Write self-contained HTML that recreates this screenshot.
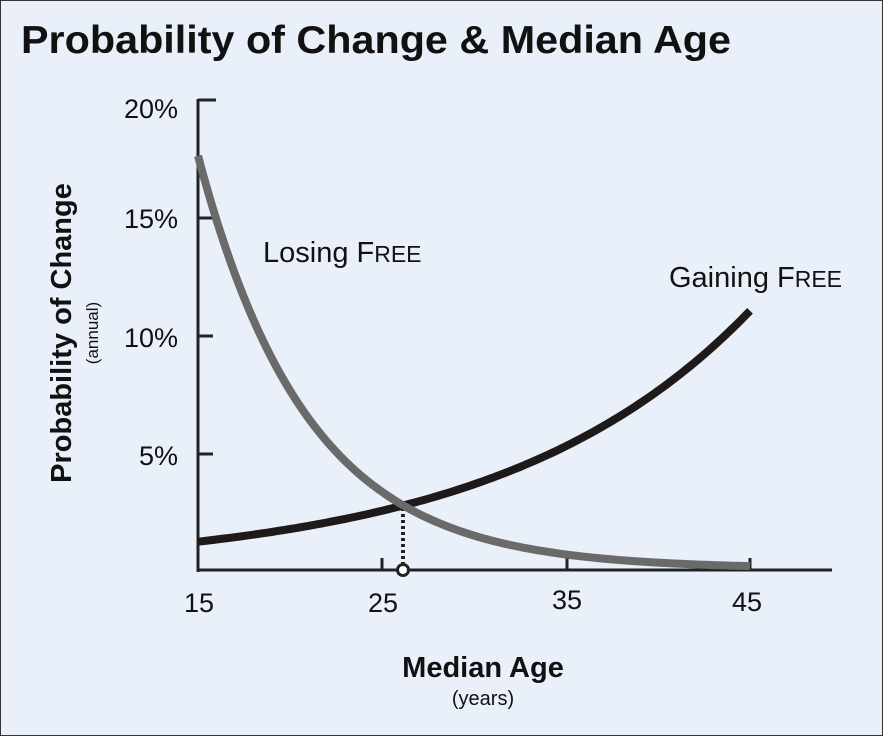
<!DOCTYPE html>
<html><head><meta charset="utf-8"><style>
html,body{margin:0;padding:0;background:#eaf0f9;}
svg{display:block;font-family:"Liberation Sans",Arial,sans-serif;}
</style></head><body>
<svg id="s" width="883" height="736" viewBox="0 0 883 736">
<rect x="0.5" y="0.5" width="882" height="735" fill="#eaf0f9" stroke="#333" stroke-width="1"/>
<text x="21" y="53" font-size="39" font-weight="bold" fill="#111" textLength="710" lengthAdjust="spacingAndGlyphs">Probability of Change &amp; Median Age</text>
<g stroke="#222" stroke-width="3" fill="none">
<line x1="198" y1="99" x2="198" y2="572"/>
<line x1="196.5" y1="570" x2="832" y2="570"/>
<line x1="198" y1="100" x2="216" y2="100"/>
<line x1="198" y1="218" x2="213" y2="218"/>
<line x1="198" y1="336" x2="213" y2="336"/>
<line x1="198" y1="454" x2="213" y2="454"/>
<line x1="382" y1="570" x2="382" y2="558"/>
<line x1="567" y1="570" x2="567" y2="558"/>
<line x1="750" y1="570" x2="750" y2="558"/>
</g>
<g font-size="27" fill="#111" text-anchor="end">
<text x="178" y="118">20%</text>
<text x="178" y="228">15%</text>
<text x="178" y="347">10%</text>
<text x="178" y="465">5%</text>
</g>
<g font-size="27" fill="#111" text-anchor="middle">
<text x="199" y="612">15</text>
<text x="383" y="612">25</text>
<text x="567" y="609">35</text>
<text x="747" y="611">45</text>
</g>
<text x="483" y="677" font-size="29" font-weight="bold" text-anchor="middle" fill="#111">Median Age</text>
<text x="483" y="705" font-size="20" text-anchor="middle" fill="#111">(years)</text>
<text transform="translate(71,333) rotate(-90)" font-size="29" font-weight="bold" text-anchor="middle" fill="#111">Probability of Change</text>
<text transform="translate(98,333) rotate(-90)" font-size="17" text-anchor="middle" fill="#111">(annual)</text>
<text x="263" y="262" font-size="29" fill="#111">Losing F<tspan font-size="23">REE</tspan></text>
<text x="669" y="287" font-size="29" fill="#111">Gaining F<tspan font-size="23">REE</tspan></text>
<line x1="403" y1="508" x2="403" y2="563" stroke="#222" stroke-width="4" stroke-dasharray="3,3"/>
<path id="gain" fill="none" stroke="#1e1a1a" stroke-width="8" stroke-linecap="butt"/>
<path id="lose" fill="none" stroke="#6a6a6a" stroke-width="8"/>
<circle cx="403" cy="570" r="5.5" fill="#fff" stroke="#222" stroke-width="3"/>
</svg>
<script>
function X(a){return 198+(a-15)*18.4;}
function Y(p){return 570-p*23.6;}
var g="",l="";
for(var a=15;a<=45.001;a+=0.25){
 g+=(a==15?"M":"L")+X(a).toFixed(1)+","+Y(1.2*Math.exp(0.0738*(a-15))).toFixed(1);
 l+=(a==15?"M":"L")+X(a).toFixed(1)+","+Y(17.5*Math.exp(-0.168*(a-15))+0.05).toFixed(1);
}
document.getElementById("gain").setAttribute("d",g);
document.getElementById("lose").setAttribute("d",l);
</script>
</body></html>
